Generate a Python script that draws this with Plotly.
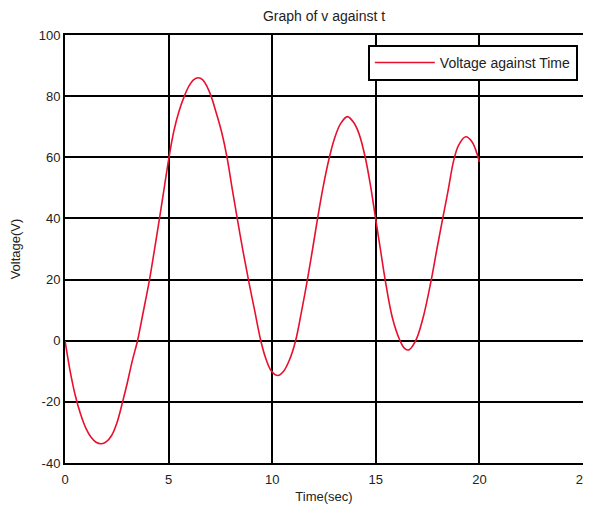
import plotly.graph_objects as go

time_sec = [0.0, 0.25, 0.5, 0.75, 1.0, 1.25, 1.5, 1.75, 2.0, 2.25, 2.5, 2.78, 3.0,
            3.25, 3.5, 3.75, 4.08, 4.3, 4.56, 4.8, 5.02, 5.25, 5.5, 5.76, 6.0, 6.2,
            6.43, 6.65, 6.85, 7.05, 7.3, 7.55, 7.82, 8.05, 8.3, 8.6, 8.88, 9.15,
            9.45, 9.7, 9.95, 10.27, 10.55, 10.85, 11.13, 11.4, 11.7, 11.95, 12.19,
            12.45, 12.76, 13.0, 13.3, 13.63, 13.95, 14.2, 14.49, 14.75, 14.99,
            15.22, 15.45, 15.8, 16.17, 16.4, 16.6, 16.8, 16.99, 17.3, 17.68, 17.95,
            18.23, 18.5, 18.76, 19.0, 19.34, 19.65, 20.0]
voltage = [0.0, -10.0, -18.0, -24.0, -28.5, -31.5, -33.2, -33.7, -33.0, -31.0,
           -27.0, -20.0, -14.0, -6.5, 0.0, 8.5, 20.0, 29.0, 40.0, 50.5, 60.0, 68.5,
           75.0, 80.0, 83.5, 85.3, 86.0, 85.3, 83.2, 80.0, 74.5, 68.5, 60.0, 50.5,
           40.5, 29.0, 19.0, 10.0, 0.0, -6.0, -9.8, -11.4, -10.0, -6.0, 0.0, 9.0,
           20.0, 30.0, 40.0, 50.0, 60.0, 66.0, 71.0, 73.3, 71.2, 67.5, 60.0, 50.5,
           40.0, 30.0, 20.0, 7.5, 0.0, -2.6, -3.0, -1.5, 1.0, 8.0, 20.0, 30.0, 40.0,
           49.5, 59.0, 64.0, 66.7, 65.0, 58.5]

x_ticks = [0, 5, 10, 15, 20, 25]
y_ticks = [-40, -20, 0, 20, 40, 60, 80, 100]

font_family = "Liberation Sans, Arial, sans-serif"

fig = go.Figure()
fig.add_trace(go.Scatter(
    x=time_sec, y=voltage, mode="lines",
    line=dict(color="#e8102e", width=1.6, shape="spline", smoothing=1.0),
    name="Voltage against Time",
))

fig.update_layout(
    width=591, height=504,
    margin=dict(l=57, r=16, t=27, b=49),
    paper_bgcolor="white", plot_bgcolor="white",
    font=dict(family=font_family, size=13, color="#222"),
    title=dict(text="Graph of v against t", xref="paper", x=0.5, xanchor="center",
               yref="container", y=0.984, yanchor="middle",
               font=dict(size=14, color="#222")),
    showlegend=True,
    legend=dict(x=0.99, y=0.977, xanchor="right", yanchor="top",
                bgcolor="white", bordercolor="black", borderwidth=2,
                itemwidth=60,
                font=dict(size=14, color="#222")),
)
fig.update_xaxes(
    range=[0, 25], tickvals=x_ticks, ticktext=[str(v) for v in x_ticks],
    showgrid=True, gridcolor="black", gridwidth=1.5,
    showline=True, linecolor="black", linewidth=2, mirror=True,
    ticks="inside", ticklen=3, tickcolor="black", zeroline=False,
    automargin=False, ticklabelstandoff=3, ticklabeloverflow="allow",
    title=dict(text="Time(sec)", standoff=6, font=dict(size=13)),
    tickfont=dict(size=13),
)
fig.update_yaxes(
    range=[-40, 100], tickvals=y_ticks, ticktext=[str(v) for v in y_ticks],
    showgrid=True, gridcolor="black", gridwidth=1.5,
    showline=True, linecolor="black", linewidth=2, mirror=True,
    ticks="inside", ticklen=3, tickcolor="black", zeroline=False,
    automargin=False,
    title=dict(text="Voltage(V)", standoff=21, font=dict(size=13)),
    tickfont=dict(size=13),
)

fig.write_html("out.html")
